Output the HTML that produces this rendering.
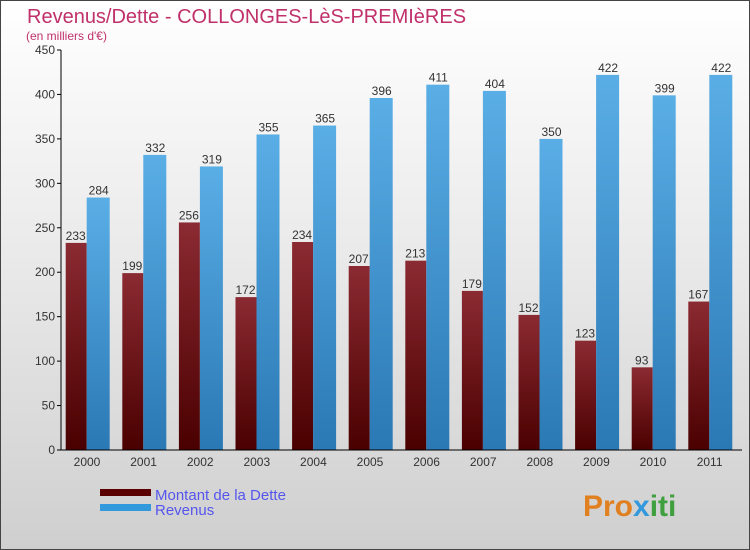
<!DOCTYPE html>
<html><head><meta charset="utf-8"><style>
body{margin:0}
#c{position:relative;width:750px;height:550px;box-sizing:border-box;border:1px solid #444;background:linear-gradient(#ffffff 0%,#e8e8e8 50%,#cfcfcf 100%);font-family:"Liberation Sans",sans-serif;overflow:hidden}
</style></head><body>
<div id="c">
<svg width="750" height="550" style="position:absolute;left:-1px;top:-1px">
<defs>
<linearGradient id="gr" x1="0" y1="0" x2="0" y2="1"><stop offset="0" stop-color="#8b2a32"/><stop offset="1" stop-color="#4a0000"/></linearGradient>
<linearGradient id="gb" x1="0" y1="0" x2="0" y2="1"><stop offset="0" stop-color="#5aaee6"/><stop offset="1" stop-color="#2a78b4"/></linearGradient>
</defs>
<text x="27" y="23" font-size="20" fill="#c0306a">Revenus/Dette - COLLONGES-LèS-PREMIèRES</text>
<text x="26" y="40" font-size="12" fill="#c0306a">(en milliers d'€)</text>
<g id="plot"></g>
<rect x="100" y="489" width="51" height="7" fill="#5a0000"/>
<rect x="100" y="504" width="51" height="7" fill="#3399dd"/>
<text x="155" y="500" font-size="15" fill="#5555ee">Montant de la Dette</text>
<text x="155" y="515" font-size="15" fill="#5555ee">Revenus</text>
<text x="583" y="516" font-size="30" font-weight="bold" fill="#e08020">Pro<tspan fill="#3399dd">x</tspan><tspan fill="#40a040">iti</tspan></text>
</svg>
</div>
<script>
const years=["2000","2001","2002","2003","2004","2005","2006","2007","2008","2009","2010","2011"];
const dette=[233,199,256,172,234,207,213,179,152,123,93,167];
const revenus=[284,332,319,355,365,396,411,404,350,422,399,422];
const ticks=[0,50,100,150,200,250,300,350,400,450];
const NS="http://www.w3.org/2000/svg";
const g=document.getElementById("plot");
const ax=61,x0=58.7,x1=742,yb=450,yt=50,vmax=450;
const gw=56.6;
const y=v=>yb-(v/vmax)*(yb-yt);
function mk(t,a){const e=document.createElementNS(NS,t);for(const k in a)e.setAttribute(k,a[k]);g.appendChild(e);return e;}
ticks.forEach(t=>{
 const l=mk("line",{x1:ax-4,x2:ax,y1:y(t),y2:y(t),stroke:"#000"});
 
 
 const tx=mk("text",{x:ax-6,y:y(t)+4,"font-size":12,"text-anchor":"end",fill:"#333"});
 tx.textContent=t;
 
 
});
years.forEach((yr,i)=>{
 const gx=x0+i*gw;
 const r=mk("rect",{x:gx+7,y:y(dette[i]),width:21,height:yb-y(dette[i]),fill:"url(#gr)"});
 
 
 const b=mk("rect",{x:gx+28,y:y(revenus[i]),width:23,height:yb-y(revenus[i]),fill:"url(#gb)"});
 
 
 const t1=mk("text",{x:gx+17,y:y(dette[i])-3,"font-size":12,"text-anchor":"middle",fill:"#333"});
 t1.textContent=dette[i];
 
 
 const t2=mk("text",{x:gx+40,y:y(revenus[i])-3,"font-size":12,"text-anchor":"middle",fill:"#333"});
 t2.textContent=revenus[i];
 
 
 const xl=mk("text",{x:gx+gw/2,y:466,"font-size":12,"text-anchor":"middle",fill:"#333"});
 xl.textContent=yr;
 
 
});
const ya=mk("line",{x1:ax,x2:ax,y1:yt,y2:yb,stroke:"#000"});


const xa=mk("line",{x1:ax,x2:x1,y1:yb,y2:yb,stroke:"#000"});


</script>
</body></html>
